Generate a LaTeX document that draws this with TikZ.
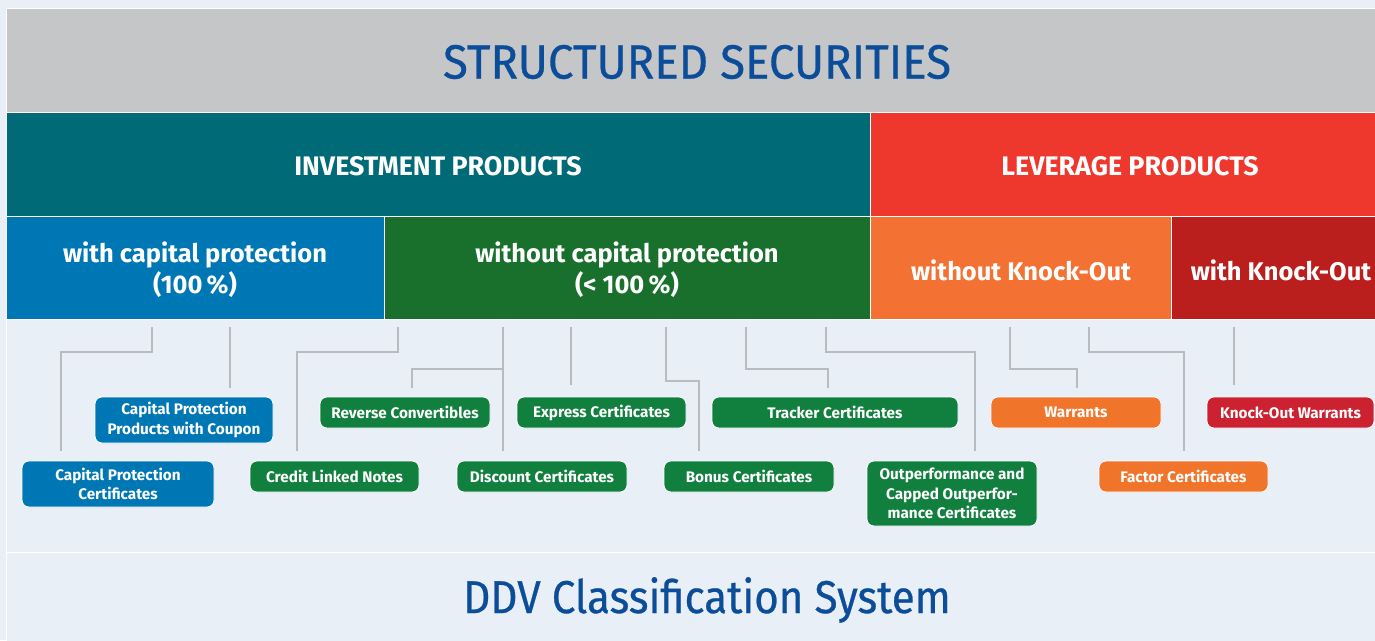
\documentclass[tikz,border=0pt]{standalone}
\usepackage{fontspec}
\setmainfont{Fira Sans}
\newfontfamily\titlefont[FakeBold=0.6]{Fira Sans}
\definecolor{bg}{HTML}{E9EFF7}
\definecolor{hdrgray}{HTML}{C5C6C8}
\definecolor{titleblue}{HTML}{0B4D98}
\definecolor{teal}{HTML}{006B76}
\definecolor{levred}{HTML}{EE372D}
\definecolor{capblue}{HTML}{0077B5}
\definecolor{bandgreen}{HTML}{19702D}
\definecolor{bandorange}{HTML}{F37133}
\definecolor{banddkred}{HTML}{BA1F1E}
\definecolor{boxgreen}{HTML}{11803F}
\definecolor{boxorange}{HTML}{F0752B}
\definecolor{boxred}{HTML}{CB2130}
\definecolor{conngray}{HTML}{B8BBC0}
\tikzset{
  band/.style={draw=white, line width=1pt, anchor=north west, inner sep=0, outer sep=0},
  bandtext/.style={text=white, font=\bfseries\fontsize{25.5}{31}\selectfont, align=center, inner sep=0},
  toptext/.style={text=white, font=\bfseries\fontsize{26.8}{30}\selectfont, inner sep=0},
  prod/.style={draw=white, line width=0.8pt, rounded corners=7pt, text=white,
    font=\bfseries\fontsize{15.3}{19.5}\selectfont, align=center, inner sep=0},
  conn/.style={draw=conngray, line width=1.4pt},
}
\begin{document}
\begin{tikzpicture}[x=1pt,y=-1pt]
\useasboundingbox (0,0) rectangle (1375,640);
\fill[bg] (0,0) rectangle (1375,640);
% bands
\node[band, fill=hdrgray, minimum width=1375, minimum height=104] (top) at (6,8) {};
\node[band, fill=teal, minimum width=865, minimum height=104] (inv) at (6,112) {};
\node[band, fill=levred, minimum width=510, minimum height=104] (lev) at (870,112) {};
\node[band, fill=capblue, minimum width=378, minimum height=103] (wcp) at (6,216) {};
\node[band, fill=bandgreen, minimum width=486, minimum height=103] (wocp) at (384,216) {};
\node[band, fill=bandorange, minimum width=301, minimum height=103] (woko) at (870,216) {};
\node[band, fill=banddkred, minimum width=210, minimum height=103] (wko) at (1171,216) {};
\node[band, fill=bg, minimum width=1375, minimum height=233] (mid) at (6,319) {};
\node[band, fill=bg, minimum width=1375, minimum height=100] (bot) at (6,552) {};
% texts
\node[text=titleblue, inner sep=0] (title) at (697,62)
  {\titlefont\fontsize{48}{50}\selectfont\scalebox{0.95}[1]{STRUCTURED SECURITIES}};
\node[toptext] (invt) at (438,166) {INVESTMENT PRODUCTS};
\node[toptext] (levt) at (1130,166) {LEVERAGE PRODUCTS};
\node[bandtext] (wcpt) at (195,270) {with capital protection\\(100\,\%)};
\node[bandtext] (wocpt) at (627,270) {without capital protection\\(<~100\,\%)};
\node[bandtext] (wokot) at (1021,270) {without Knock-Out};
\node[bandtext] (wkot) at (1281,270) {with Knock-Out};
\node[text=titleblue, inner sep=0] (ddv) at (707,600)
  {\titlefont\fontsize{46}{50}\selectfont\scalebox{0.915}[1]{DDV Classification System}};
% product boxes
\node[prod, fill=capblue, minimum width=192, minimum height=46] (cpc) at (118,484) {Capital Protection\\Certificates};
\node[prod, fill=capblue, minimum width=178, minimum height=46] (cpp) at (184,420) {Capital Protection\\Products with Coupon};
\node[prod, fill=boxgreen, minimum width=169, minimum height=31] (cln) at (334.5,476.5) {Credit Linked Notes};
\node[prod, fill=boxgreen, minimum width=170, minimum height=31] (rc) at (405,412.5) {Reverse Convertibles};
\node[prod, fill=boxgreen, minimum width=170, minimum height=31] (dc) at (542,476.5) {Discount Certificates};
\node[prod, fill=boxgreen, minimum width=169, minimum height=31] (ex) at (601.5,412.5) {Express Certificates};
\node[prod, fill=boxgreen, minimum width=170, minimum height=31] (bc) at (749,476.5) {Bonus Certificates};
\node[prod, fill=boxgreen, minimum width=246, minimum height=31] (tc) at (835,412.5) {Tracker Certificates};
\node[prod, fill=boxgreen, minimum width=170, minimum height=65] (oc) at (952,493.5) {Outperformance and\\Capped Outperfor-\\mance Certificates};
\node[prod, fill=boxorange, minimum width=170, minimum height=31] (wa) at (1076,412.5) {Warrants};
\node[prod, fill=boxorange, minimum width=169, minimum height=31] (fc) at (1183.5,476.5) {Factor Certificates};
\node[prod, fill=boxred, minimum width=167, minimum height=31] (kow) at (1290.5,412.5) {Knock-Out Warrants};
% connector end points
\coordinate (s1) at (152,327);  \coordinate (e1) at (61,451);
\coordinate (s2) at (230,327);  \coordinate (e2) at (230,388);
\coordinate (s3) at (398,327);  \coordinate (e3) at (297,451);
\coordinate (s4) at (503,327);  \coordinate (e4) at (503,451);
\coordinate (b4) at (503,369);  \coordinate (e4b) at (412,388);
\coordinate (s5) at (571,327);  \coordinate (e5) at (571,385);
\coordinate (s6) at (666,327);  \coordinate (e6) at (699,451);
\coordinate (s7) at (746,327);  \coordinate (e7) at (828,388);
\coordinate (s8) at (826,327);  \coordinate (e8) at (975,451);
\coordinate (s9) at (1010,327); \coordinate (e9) at (1077,388);
\coordinate (s10) at (1089,327); \coordinate (e10) at (1184,451);
\coordinate (s11) at (1234,327); \coordinate (e11) at (1234,385);
% connectors
\draw[conn] (s1) -- ++(0,25) -| (e1);
\draw[conn] (s2) -- (e2);
\draw[conn] (s3) -- ++(0,25) -| (e3);
\draw[conn] (s4) -- (e4);
\draw[conn] (b4) -| (e4b);
\draw[conn] (s5) -- (e5);
\draw[conn] (s6) -- ++(0,54) -| (e6);
\draw[conn] (s7) -- ++(0,42) -| (e7);
\draw[conn] (s8) -- ++(0,25) -| (e8);
\draw[conn] (s9) -- ++(0,42) -| (e9);
\draw[conn] (s10) -- ++(0,25) -| (e10);
\draw[conn] (s11) -- (e11);
\end{tikzpicture}
\end{document}
